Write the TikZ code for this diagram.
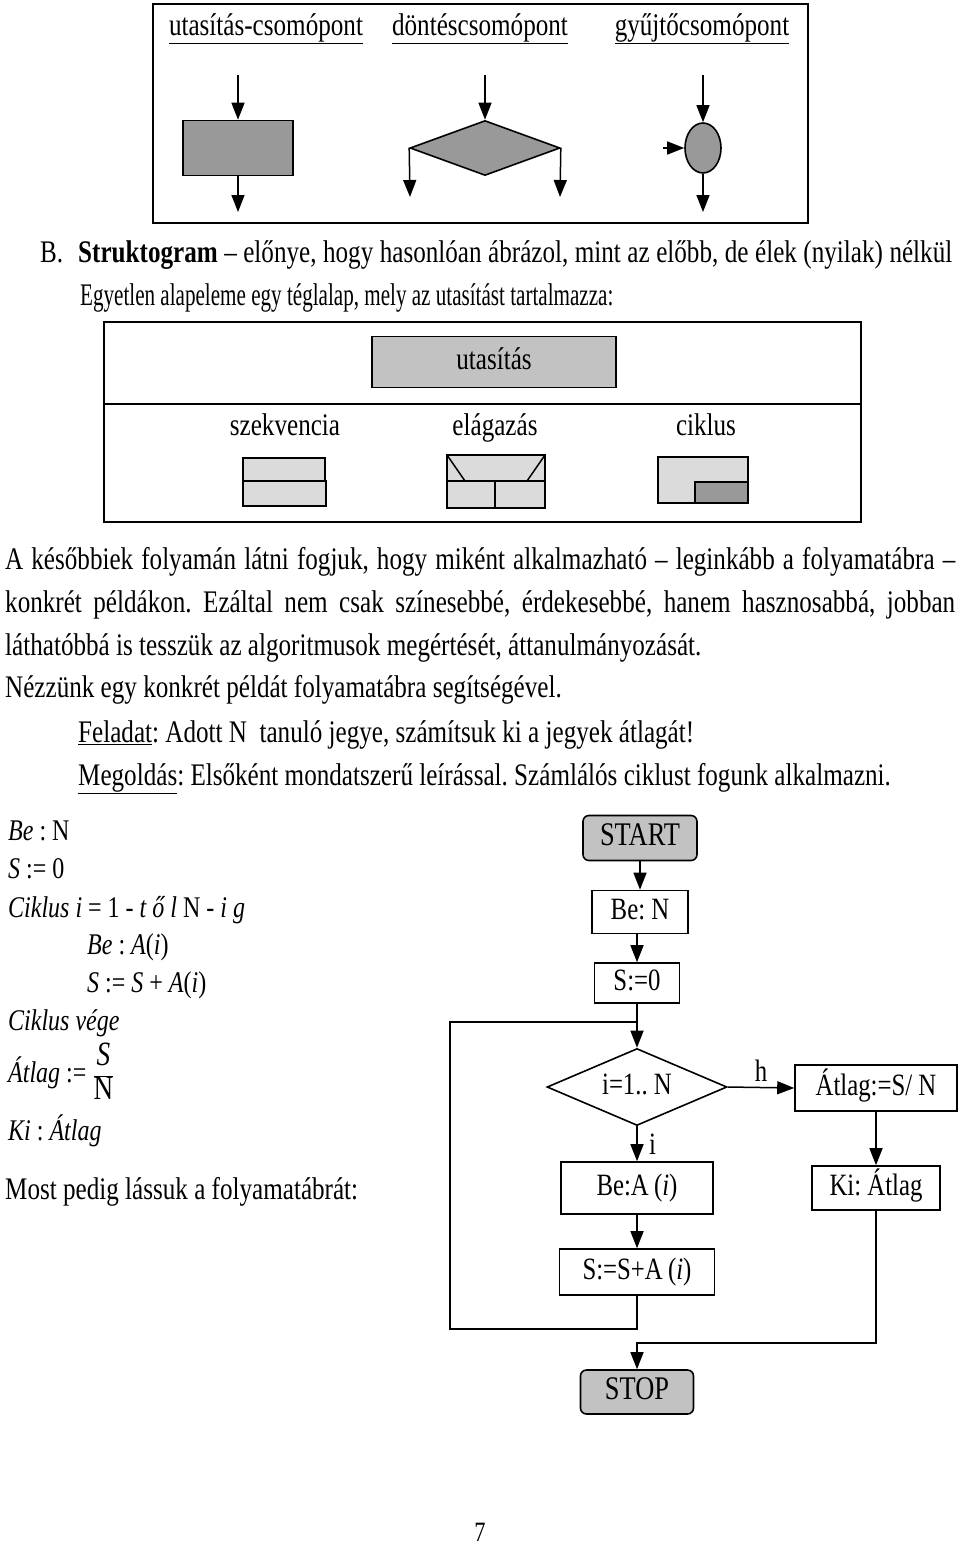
\documentclass[tikz,border=0pt]{standalone}
\usepackage{fontspec}
\usepackage{graphicx}
\setmainfont{Liberation Serif}[FakeStretch=0.8]
\usetikzlibrary{arrows.meta,shapes.geometric}
\definecolor{shapegray}{gray}{0.6}
\definecolor{boxgray}{gray}{0.76}
\definecolor{icongray}{gray}{0.86}
\newcommand{\tsz}{\fontsize{31.4pt}{36pt}\selectfont}
\newcommand{\csz}{\fontsize{30pt}{34pt}\selectfont}
\newcommand{\fsz}{\fontsize{31pt}{35pt}\selectfont}
\frenchspacing
\begin{document}
\begin{tikzpicture}[x=1pt,y=-1pt,font=\tsz,
  arr/.style={-{Triangle[length=17pt,width=13pt]},line width=1.5pt},
  ln/.style={line width=1.5pt},
  lbl/.style={inner sep=0pt,text height=22pt,text depth=7pt},
  txt/.style={lbl,anchor=west},
  fbox/.style={draw,line width=1.6pt,inner sep=0pt,font=\fsz,text height=22pt,text depth=7pt},
  term/.style={fbox,rounded corners=6pt,fill=boxgray,font=\fontsize{33pt}{36pt}\selectfont}]
\useasboundingbox (0,0) rectangle (960,1545);
\draw[line width=1.6pt] (153,4) rectangle (808,223);
\node[lbl] (lutas) at (266,28) {\underline{utasítás-csomópont}};
\node[lbl] (ldont) at (480,28) {\underline{döntéscsomópont}};
\node[lbl] (lgyujt) at (702,28) {\underline{gyűjtőcsomópont}};
\node[draw,line width=1.6pt,fill=shapegray,minimum width=110,minimum height=55] (ut) at (238,148) {};
\node[draw,line width=1.6pt,diamond,inner sep=0pt,fill=shapegray,aspect=2.7,minimum width=150,minimum height=55] (dn) at (485,148) {};
\node[draw,line width=1.6pt,ellipse,inner sep=0pt,fill=shapegray,minimum width=36,minimum height=50] (gy) at (703,148) {};
\coordinate (utin) at (238,75);
\coordinate (utout) at (238,212);
\coordinate (dnin) at (485,75);
\coordinate (dnl) at (410,197);
\coordinate (dnr) at (560,197);
\coordinate (gyin) at (703,75);
\coordinate (gyl) at (663,148);
\coordinate (gyout) at (703,212);
\draw[arr] (utin) -- (ut);
\draw[arr] (ut) -- (utout);
\draw[arr] (dnin) -- (dn);
\draw[arr] (dn.west) -- (dnl);
\draw[arr] (dn.east) -- (dnr);
\draw[arr] (gyin) -- (gy);
\draw[arr] (gyl) -- (gy);
\draw[arr] (gy) -- (gyout);
\node[txt] (lb) at (40,255) {B.\hspace{15pt}\makebox[874pt][s]{\textbf{Struktogram} – előnye, hogy hasonlóan ábrázol, mint az előbb, de élek (nyilak) nélkül}};
\node[txt] (leg) at (80,298) {\scalebox{0.84}[1]{Egyetlen alapeleme egy téglalap, mely az utasítást tartalmazza:}};
\draw[line width=1.6pt] (104,322) rectangle (861,522);
\draw[line width=1.6pt] (104,404) -- (861,404);
\node[fbox,font=\tsz,fill=boxgray,minimum width=244,minimum height=51] (utas) at (494,362) {utasítás};
\node[lbl] (lszek) at (285,428) {szekvencia};
\node[lbl] (lelag) at (495,428) {elágazás};
\node[lbl] (lcik) at (706,428) {ciklus};
\draw[ln,fill=icongray] (243,458) rectangle (325,483);
\draw[ln,fill=icongray] (243,481) rectangle (326,506);
\draw[ln,fill=icongray] (447,455) rectangle (545,481);
\draw[ln] (447,455) -- (465,481) (545,455) -- (527,481);
\draw[ln,fill=icongray] (447,481) rectangle (495,508);
\draw[ln,fill=icongray] (495,481) rectangle (545,508);
\draw[ln,fill=icongray] (658,457) rectangle (748,503);
\draw[ln,fill=shapegray] (695,482) rectangle (748,503);
\node[txt] (p1) at (5,562) {\makebox[950pt][s]{A későbbiek folyamán látni fogjuk, hogy miként alkalmazható – leginkább a folyamatábra –}};
\node[txt] (p2) at (5,605) {\makebox[950pt][s]{konkrét példákon. Ezáltal nem csak színesebbé, érdekesebbé, hanem hasznosabbá, jobban}};
\node[txt] (p3) at (5,648) {láthatóbbá is tesszük az algoritmusok megértését, áttanulmányozását.};
\node[txt] (p4) at (5,690) {Nézzünk egy konkrét példát folyamatábra segítségével.};
\node[txt] (p5) at (78,735) {\underline{Feladat}: Adott N~ tanuló jegye, számítsuk ki a jegyek átlagát!};
\node[txt] (p6) at (78,778) {\underline{Megoldás}: Elsőként mondatszerű leírással. Számlálós ciklust fogunk alkalmazni.};
\node[txt,font=\csz] (c1) at (8,833) {\textit{Be} : N};
\node[txt,font=\csz] (c2) at (8,871) {\textit{S} := 0};
\node[txt,font=\csz] (c3) at (8,910) {\textit{Ciklus i} = 1 - \textit{t ő l} N - \textit{i g}};
\node[txt,font=\csz] (c4) at (87,947) {\textit{Be} : \textit{A}(\textit{i})};
\node[txt,font=\csz] (c5) at (87,985) {\textit{S} := \textit{S} + \textit{A}(\textit{i})};
\node[txt,font=\csz] (c6) at (8,1023) {\textit{Ciklus vége}};
\node[txt,font=\csz,text height=40pt,text depth=30pt] (c7) at (8,1077) {\textit{Átlag} := {\fontsize{34pt}{38pt}\selectfont$\displaystyle\frac{\textit{S}}{\textrm{N}}$}};
\node[txt,font=\csz] (c8) at (8,1133) {\textit{Ki} : \textit{Átlag}};
\node[txt] (pm) at (5,1192) {Most pedig lássuk a folyamatábrát:};
\node[term,minimum width=114,minimum height=45] (start) at (640,838) {START};
\node[fbox,minimum width=96,minimum height=43] (ben) at (640,912) {Be: N};
\node[fbox,minimum width=85,minimum height=40] (s0) at (637,983) {S:=0};
\node[fbox,diamond,aspect=2.35,minimum width=180,minimum height=77] (test) at (637,1087) {i=1.. N};
\node[fbox,minimum width=162,minimum height=46] (avg) at (876,1088) {Átlag:=S/ N};
\node[fbox,minimum width=128,minimum height=44] (ki) at (876,1188) {Ki: Átlag};
\node[fbox,minimum width=152,minimum height=52] (bea) at (637,1188) {Be:A\,(\textit{i})};
\node[fbox,minimum width=155,minimum height=46] (ssum) at (637,1272) {S:=S+A\,(\textit{i})};
\node[term,minimum width=113,minimum height=44] (stop) at (637,1392) {STOP};
\coordinate (join) at (s0.south |- 0,1022);
\draw[arr] (start) -- (ben);
\draw[arr] (ben.south -| s0.north) -- (s0.north);
\draw[arr] (s0) -- (test);
\draw[arr] (test.east) -- (avg.west) node[midway,above=2pt,font=\fsz] {h};
\draw[arr] (avg) -- (ki);
\draw[arr] (test) -- (bea) node[midway,right=8pt,font=\fsz] {i};
\draw[arr] (bea) -- (ssum);
\draw[ln] (ssum.south) -- ++(0,33) -| (450,1022) -- (join);
\draw[arr] (ki.south) -- ++(0,132) -| (stop.north);
\node[inner sep=0pt,font=\fontsize{28pt}{30pt}\selectfont] (pnum) at (480,1532) {7};
\end{tikzpicture}
\end{document}
